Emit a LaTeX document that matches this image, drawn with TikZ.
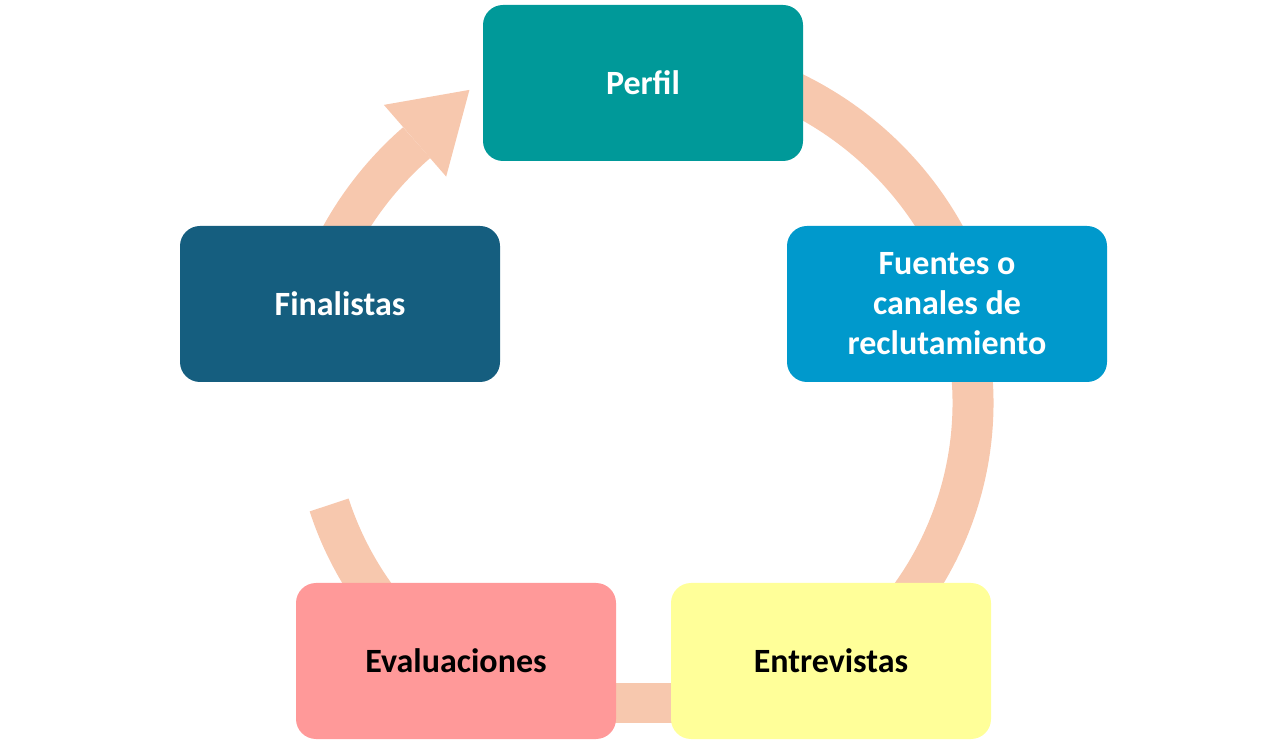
\documentclass[tikz,border=0pt]{standalone}
\usepackage{fontspec}
\setmainfont{Carlito}
\definecolor{arcc}{HTML}{F7C8AE}
\definecolor{cperf}{HTML}{009999}
\definecolor{cfuen}{HTML}{0099CC}
\definecolor{cfin}{HTML}{155E7F}
\definecolor{ceva}{HTML}{FF9999}
\definecolor{cent}{HTML}{FFFF99}
\begin{document}
\begin{tikzpicture}[x=1pt,y=1pt,
  box/.style={rounded corners=20pt,minimum width=320pt,minimum height=156pt,inner sep=0pt,
    font=\fontsize{34}{40}\selectfont\bfseries,align=center,text=white},
  band/.style={draw=arcc,line width=41pt}]
\useasboundingbox (0,0) rectangle (1286,745);
\coordinate (c) at (643,342);
% arcs
\draw[band] ([shift={(90:345)}]c) arc[start angle=90,end angle=18,radius=345];
\draw[band] ([shift={(18:330)}]c) arc[start angle=18,end angle=-54,radius=330];
\draw[band] ([shift={(198:330)}]c) arc[start angle=198,end angle=234,radius=330];
\draw[band] ([shift={(162:345)}]c) arc[start angle=162,end angle=131,radius=345];
\fill[arcc] ([shift={(131:300)}]c) -- ([shift={(131:395)}]c) -- ([shift={(119:358)}]c) -- cycle;
\fill[arcc] (612,22) rectangle (675,62);
% boxes
\node[box,fill=cperf] (perfil) at (643,662) {Perfil};
\node[box,fill=cfuen] (fuentes) at (947,441) {Fuentes o\\canales de\\reclutamiento};
\node[box,fill=cent,text=black] (entre) at (831,84) {Entrevistas};
\node[box,fill=ceva,text=black] (eval) at (456,84) {Evaluaciones};
\node[box,fill=cfin] (fin) at (340,441) {Finalistas};
\end{tikzpicture}
\end{document}
